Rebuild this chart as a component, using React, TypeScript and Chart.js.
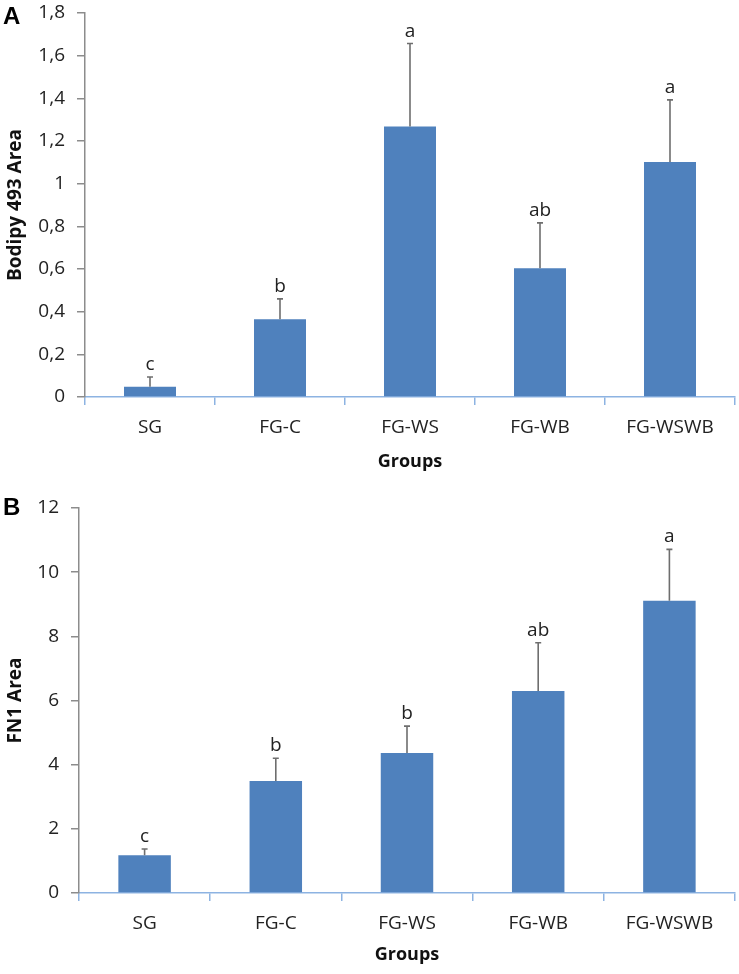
import React, { useEffect, useRef } from 'react';
import { Chart, registerables } from 'chart.js';

Chart.register(...registerables);

// ---- Data ----
const groups = ['SG', 'FG-C', 'FG-WS', 'FG-WB', 'FG-WSWB'];

const bodipyMeans = [0.048, 0.364, 1.268, 0.604, 1.101];
const bodipyErrors = [0.046, 0.096, 0.389, 0.212, 0.292];
const bodipyLetters = ['c', 'b', 'a', 'ab', 'a'];
const bodipyAxis = { min: 0, max: 1.8, step: 0.2 };

const fn1Means = [1.18, 3.49, 4.36, 6.3, 9.11];
const fn1Errors = [0.19, 0.71, 0.84, 1.5, 1.6];
const fn1Letters = ['c', 'b', 'b', 'ab', 'a'];
const fn1Axis = { min: 0, max: 12, step: 2 };

const FONT = 'Open Sans';
const BAR = '#4F81BD';
const YAXIS = '#8c8c8c';
const XAXIS = '#8db3e2';

function fmt(v: number) {
  return Number(v).toFixed(1).replace(/\.0$/, '').replace('.', ',');
}

function errPlugin(means: number[], errors: number[], letters: string[]) {
  return {
    id: 'errLetters',
    afterDatasetsDraw(chart: any) {
      const ctx = chart.ctx;
      const meta = chart.getDatasetMeta(0);
      const y = chart.scales.y;
      ctx.save();
      means.forEach((m, i) => {
        const el = meta.data[i];
        const x = el.x;
        const yb = y.getPixelForValue(m);
        const yt = y.getPixelForValue(m + errors[i]);
        ctx.strokeStyle = '#6e6e6e';
        ctx.lineWidth = 1.6;
        ctx.beginPath();
        ctx.moveTo(x, yb);
        ctx.lineTo(x, yt);
        ctx.moveTo(x - 3, yt);
        ctx.lineTo(x + 3, yt);
        ctx.stroke();
        ctx.fillStyle = '#222';
        ctx.font = `19px "${FONT}"`;
        ctx.textAlign = 'center';
        ctx.textBaseline = 'alphabetic';
        ctx.fillText(letters[i], x, yt - 7);
      });
      ctx.restore();
    },
  };
}

function makeConfig(
  means: number[],
  errors: number[],
  letters: string[],
  axis: { min: number; max: number; step: number },
  yTitle: string,
  yWidth: number,
  xHeight: number,
  padTop: number,
  titleBottomPad: number
): any {
  return {
    type: 'bar',
    data: {
      labels: groups,
      datasets: [
        {
          data: means,
          backgroundColor: BAR,
          borderWidth: 0,
          barPercentage: 0.4,
          categoryPercentage: 1.0,
        },
      ],
    },
    options: {
      responsive: false,
      animation: false,
      layout: { padding: { top: padTop, right: 4, left: 0, bottom: 0 } },
      plugins: { legend: { display: false }, tooltip: { enabled: false } },
      scales: {
        x: {
          ticks: { color: '#222', font: { family: FONT, size: 19 }, padding: 11 },
          grid: { offset: true, drawOnChartArea: false, drawTicks: true, tickLength: 8, color: XAXIS, lineWidth: 1.5 },
          border: { color: XAXIS, width: 1.5 },
          title: {
            display: true,
            text: 'Groups',
            color: '#111',
            font: { family: FONT, size: 18, weight: 'bold' },
            padding: { top: 0, bottom: titleBottomPad },
          },
          afterFit: (s: any) => {
            s.height = xHeight;
            s.paddingLeft = 0;
            s.paddingRight = 0;
          },
        },
        y: {
          min: axis.min,
          max: axis.max,
          ticks: {
            stepSize: axis.step,
            padding: 12,
            color: '#222',
            font: { family: FONT, size: 19 },
            callback: (v: any) => fmt(v),
          },
          grid: { drawOnChartArea: false, drawTicks: true, tickLength: 8, color: YAXIS, lineWidth: 1.5 },
          border: { color: YAXIS, width: 1.5 },
          title: {
            display: true,
            text: yTitle,
            color: '#111',
            font: { family: FONT, size: 19, weight: 'bold' },
            padding: { top: 4, bottom: 0 },
          },
          afterFit: (s: any) => {
            s.width = yWidth;
            s.paddingTop = 0;
            s.paddingBottom = 0;
          },
        },
      },
    },
    plugins: [errPlugin(means, errors, letters)],
  };
}

function BarChart(props: { config: any; height: number }) {
  const ref = useRef<HTMLCanvasElement | null>(null);
  useEffect(() => {
    if (!ref.current) return;
    const chart = new Chart(ref.current, props.config);
    return () => chart.destroy();
  }, []);
  return <canvas ref={ref} width={739} height={props.height} style={{ display: 'block' }} />;
}

export default function App() {
  const topCfg = makeConfig(bodipyMeans, bodipyErrors, bodipyLetters, bodipyAxis, 'Bodipy 493 Area', 85, 90, 13, 14);
  const botCfg = makeConfig(fn1Means, fn1Errors, fn1Letters, fn1Axis, 'FN1 Area', 79, 81, 21, 8);
  const letterStyle: React.CSSProperties = {
    position: 'absolute',
    left: 3,
    fontFamily: '"Liberation Sans", Arial, sans-serif',
    fontWeight: 'bold',
    fontSize: 24,
    lineHeight: '24px',
    color: '#000',
  };
  return (
    <div style={{ position: 'absolute', left: 0, top: 0, width: 739, height: 974, background: '#fff' }}>
      <div style={{ position: 'absolute', left: 0, top: 0, width: 739, height: 487 }}>
        <BarChart config={topCfg} height={487} />
      </div>
      <div style={{ position: 'absolute', left: 0, top: 487, width: 739, height: 487 }}>
        <BarChart config={botCfg} height={487} />
      </div>
      <div style={{ ...letterStyle, top: 4 }}>A</div>
      <div style={{ ...letterStyle, top: 495 }}>B</div>
    </div>
  );
}
